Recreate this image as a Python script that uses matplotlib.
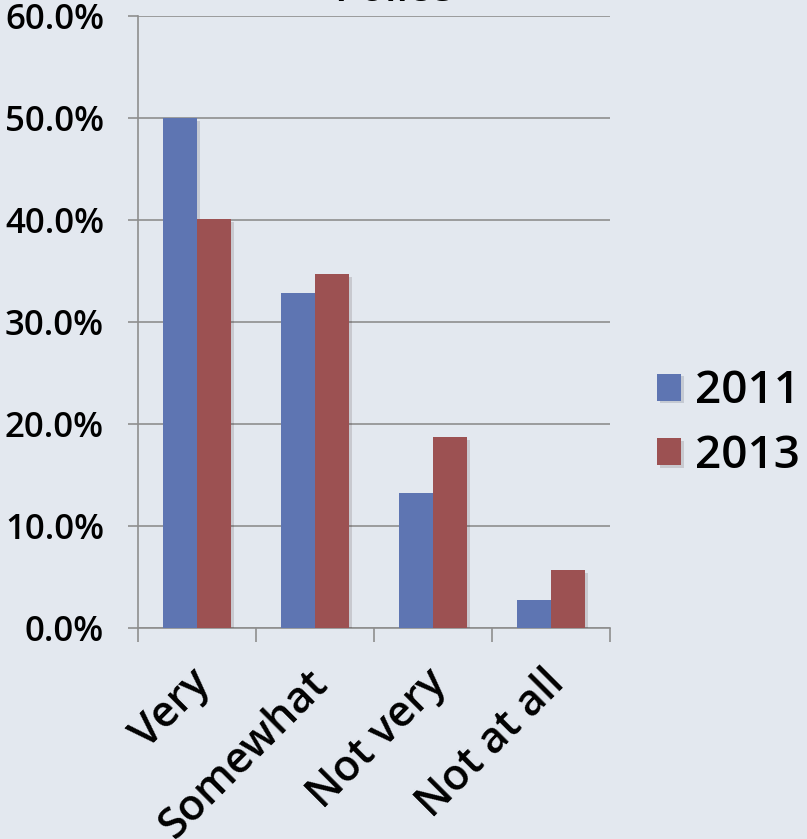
import numpy as np
import matplotlib
matplotlib.use('Agg')
import matplotlib.pyplot as plt
import matplotlib.patheffects as pe
import matplotlib.transforms as mtransforms
from matplotlib.ticker import FuncFormatter, FixedLocator

categories = ['Very', 'Somewhat', 'Not very', 'Not at all']
series_names = ['2011', '2013']
values_2011 = [50.0, 32.8, 13.2, 2.7]
values_2013 = [40.1, 34.7, 18.7, 5.7]
title = 'Police'

BG = '#E3E8EF'
GRID = '#8E8E8E'
colors = ['#5E75B2', '#9C5152']
WEIGHT = 'semibold'

plt.rcParams['font.family'] = ['Open Sans', 'DejaVu Sans']

fig = plt.figure(figsize=(8.07, 8.39), dpi=100, facecolor=BG)
ax = fig.add_axes([138 / 807, 1 - 628 / 839, 472 / 807, 612 / 839])
ax.set_facecolor(BG)

x = np.arange(len(categories))
width = 0.29
shadow = [pe.SimplePatchShadow(offset=(2, -2), alpha=0.15), pe.Normal()]
for i, (name, vals) in enumerate(zip(series_names, [values_2011, values_2013])):
    bars = ax.bar(x + (i - 0.5) * width, vals, width, color=colors[i], label=name, zorder=3)
    for b in bars:
        b.set_path_effects(shadow)

ax.set_xlim(-0.5, len(categories) - 0.5)
ax.set_ylim(0, 60)
ax.yaxis.set_major_locator(FixedLocator(np.arange(0, 61, 10)))
ax.yaxis.set_major_formatter(FuncFormatter(lambda v, p: f'{v:.1f}%'))
ax.grid(axis='y', color=GRID, linewidth=1.2, zorder=0)
ax.set_axisbelow(True)

ax.xaxis.set_major_locator(FixedLocator(np.arange(-0.5, len(categories), 1)))
ax.xaxis.set_major_formatter(FuncFormatter(lambda v, p: ''))
ax.xaxis.set_minor_locator(FixedLocator(x))
ax.set_xticklabels(categories, minor=True, rotation=45, ha='right',
                   rotation_mode='anchor', fontsize=31, fontweight=WEIGHT)
ax.tick_params(axis='x', which='minor', length=0, pad=24)
ax.tick_params(axis='x', which='major', length=10, width=1.2, color=GRID, direction='out')
ax.tick_params(axis='y', length=7.5, width=1.2, color=GRID, direction='out',
               labelsize=25, pad=17)
for lbl in ax.get_yticklabels():
    lbl.set_fontweight(WEIGHT)

# nudge category labels a little to the left
shift = mtransforms.ScaledTranslation(-8 / 100, 0, fig.dpi_scale_trans)
for lbl in ax.get_xticklabels(minor=True):
    lbl.set_transform(lbl.get_transform() + shift)

for s in ['top', 'right']:
    ax.spines[s].set_visible(False)
for s in ['left', 'bottom']:
    ax.spines[s].set_color(GRID)
    ax.spines[s].set_linewidth(1.2)

fig.text(393 / 807, 1 - 1 / 839, title, ha='center', va='baseline',
         fontsize=30, fontweight=WEIGHT)

leg = fig.legend(loc='center left', bbox_to_anchor=(657 / 807, 1 - 424 / 839),
                 frameon=False, fontsize=33, handlelength=0.53, handleheight=0.53,
                 handletextpad=0.3, labelspacing=0.42, borderpad=0, borderaxespad=0)
for t in leg.get_texts():
    t.set_fontweight(WEIGHT)

fig.savefig('out.png', dpi=100, facecolor=BG)
